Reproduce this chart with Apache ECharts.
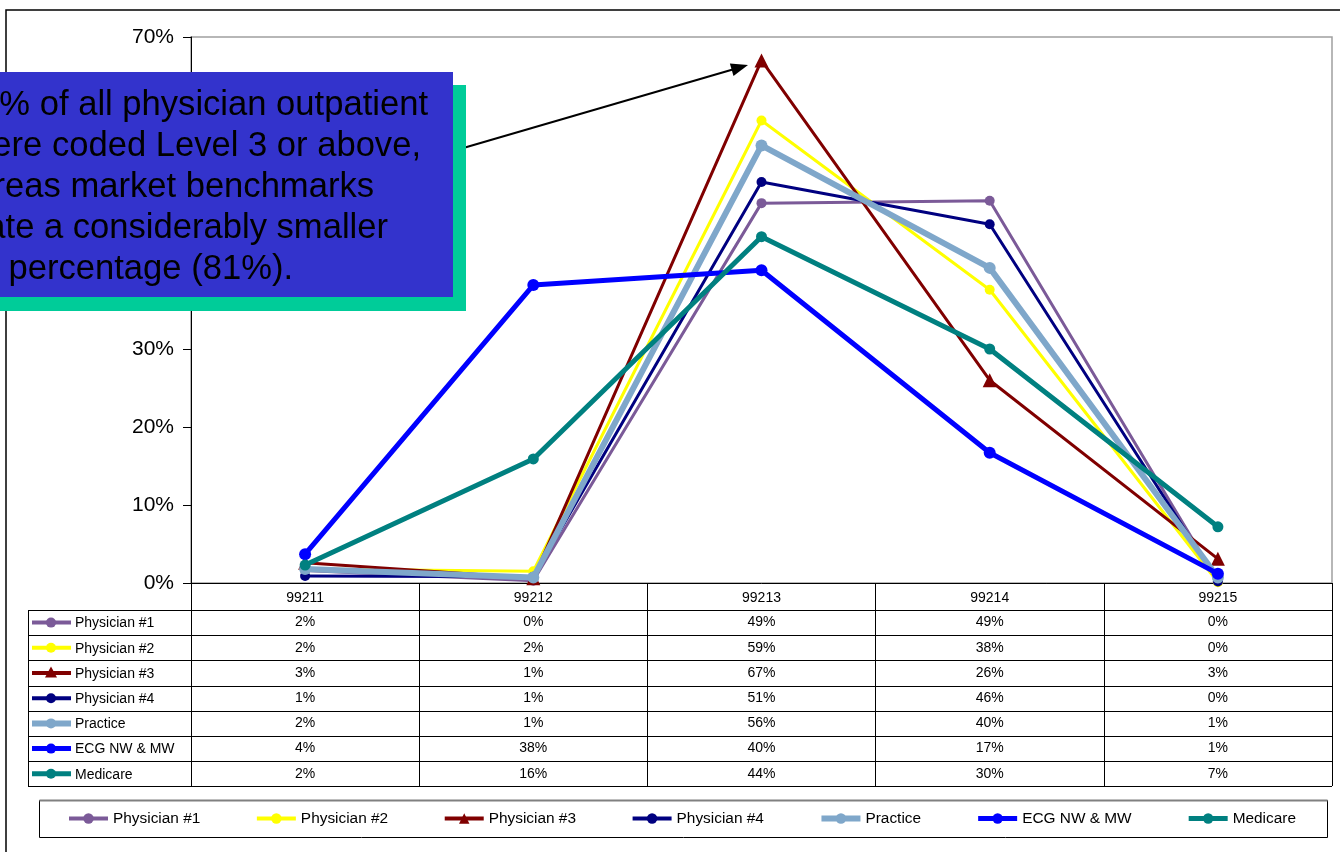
<!DOCTYPE html>
<html><head><meta charset="utf-8">
<script src="https://cdn.jsdelivr.net/npm/echarts@6/dist/echarts.min.js"></script>
<style>html,body{margin:0;padding:0;background:#fff;overflow:hidden}#c{width:1340px;height:852px}</style>
</head><body><div id="c"></div>
<script>
const categories = ['99211', '99212', '99213', '99214', '99215'];
const seriesNames = ['Physician #1', 'Physician #2', 'Physician #3', 'Physician #4', 'Practice', 'ECG NW & MW', 'Medicare'];
const physician1 = [1.6, 0.3, 48.7, 49.0, 0.2];
const physician2 = [1.8, 1.5, 59.3, 37.6, 0.1];
const physician3 = [2.6, 0.6, 67.0, 26.0, 3.1];
const physician4 = [0.9, 0.8, 51.4, 46.0, 0.2];
const practice = [1.8, 0.7, 56.1, 40.4, 0.7];
const ecg = [3.7, 38.2, 40.1, 16.7, 1.2];
const medicare = [2.3, 15.9, 44.4, 30.0, 7.2];
const yTickValues = [0, 10, 20, 30, 40, 50, 60, 70];
const calloutLines = ['% of all physician outpatient', 'ere coded Level 3 or above,', 'reas market benchmarks', 'ate a considerably smaller', ' percentage (81%).'];

const seriesData = [physician1, physician2, physician3, physician4, practice, ecg, medicare];
const colors = ['#7B5A98', '#FFFF00', '#800000', '#000080', '#7FA7CA', '#0000FF', '#008080'];
const widths = [3, 3, 3, 3, 6, 5, 5];
const symbols = ['circle', 'circle', 'triangle', 'circle', 'circle', 'circle', 'circle'];
const symSizes = [10, 10, 14, 10, 12, 12, 11];
const FONT = "'Liberation Sans', Arial, sans-serif";

const chart = echarts.init(document.getElementById('c'), null, {renderer: 'canvas'});

const series = seriesNames.map((n, i) => ({
  name: n, type: 'line', data: seriesData[i],
  symbol: symbols[i], symbolSize: symSizes[i],
  lineStyle: {color: colors[i], width: widths[i]},
  itemStyle: {color: colors[i]},
  emphasis: {disabled: true}, animation: false, z: 2 + i
}));

const option = {
  animation: false,
  textStyle: {fontFamily: FONT},
  grid: {left: 191, right: 8, top: 37, bottom: 269, show: true, borderColor: '#a0a0a0', borderWidth: 1.5, backgroundColor: 'transparent'},
  xAxis: {
    type: 'category', data: categories, boundaryGap: true,
    axisLine: {lineStyle: {color: '#000', width: 1}},
    axisTick: {show: true, interval: 0, length: 203, lineStyle: {color: '#000', width: 1}},
    axisLabel: {margin: 8, fontSize: 14, color: '#000', fontFamily: FONT, interval: 0},
    splitLine: {show: false}
  },
  yAxis: {
    type: 'value', min: yTickValues[0], max: yTickValues[yTickValues.length - 1], interval: 10,
    axisLine: {show: true, lineStyle: {color: '#000', width: 1}},
    axisTick: {show: true, length: 8, lineStyle: {color: '#000'}},
    axisLabel: {margin: 17, fontSize: 21, color: '#000', fontFamily: FONT, formatter: '{value}%'},
    splitLine: {show: false}
  },
  legend: {
    data: seriesNames.map((n, i) => ({name: n, lineStyle: {width: Math.max(4, widths[i])}})),
    left: 67, top: 811, padding: 0, itemWidth: 39, itemHeight: 13, itemGap: 54.6,
    textStyle: {fontSize: 15.4, color: '#000', fontFamily: FONT},
    selectedMode: false
  },
  series: series
};
chart.setOption(option);

// Build table, callout and frame graphics
const g = [];
const yBase = chart.convertToPixel({yAxisIndex: 0}, 0);
const tableLeft = 28;
const tableRight = 1332;
const headerH = 27;
const rowH = 25.2;
const rows = seriesNames.length;
// outer frame
g.push({type: 'rect', shape: {x: 6, y: 10, width: 1500, height: 1000}, style: {fill: 'none', stroke: '#000', lineWidth: 1.5}, z: 1});
// table horizontal lines
for (let r = 0; r <= rows; r++) {
  const y = Math.round(yBase + headerH + r * rowH) + 0.5;
  g.push({type: 'line', shape: {x1: tableLeft, y1: y, x2: tableRight, y2: y}, style: {stroke: '#000', lineWidth: 1}, z: 1});
}
const tableBottom = Math.round(yBase + headerH + rows * rowH) + 0.5;
g.push({type: 'line', shape: {x1: tableLeft + 0.5, y1: yBase + headerH, x2: tableLeft + 0.5, y2: tableBottom}, style: {stroke: '#000', lineWidth: 1}, z: 1});
// rows
seriesNames.forEach((n, i) => {
  const cy = yBase + headerH + (i + 0.5) * rowH;
  g.push({type: 'line', shape: {x1: 32, y1: cy, x2: 71, y2: cy}, style: {stroke: colors[i], lineWidth: Math.max(4, widths[i])}, z: 3});
  if (symbols[i] === 'triangle') {
    g.push({type: 'polygon', shape: {points: [[51, cy - 6.5], [57, cy + 4.5], [45, cy + 4.5]]}, style: {fill: colors[i]}, z: 4});
  } else {
    g.push({type: 'circle', shape: {cx: 51, cy: cy, r: 5}, style: {fill: colors[i]}, z: 4});
  }
  g.push({type: 'text', x: 75, y: cy + 1, style: {text: n, fontSize: 14, fontFamily: FONT, fill: '#000', verticalAlign: 'middle', align: 'left'}, z: 4});
  seriesData[i].forEach((v, j) => {
    const cx = chart.convertToPixel({xAxisIndex: 0}, j);
    g.push({type: 'text', x: cx, y: cy, style: {text: Math.round(v) + '%', fontSize: 14, fontFamily: FONT, fill: '#000', align: 'center', verticalAlign: 'middle'}, z: 4});
  });
});
// legend box
g.push({type: 'rect', shape: {x: 39.5, y: 800.5, width: 1288, height: 37}, style: {fill: 'none', stroke: '#000', lineWidth: 1}, z: 1});
g.push({type: 'line', shape: {x1: 39.5, y1: 800.5, x2: 1327.5, y2: 800.5}, style: {stroke: '#808080', lineWidth: 2}, z: 1});
// arrow
const ax1 = 453, ay1 = 151, ax2 = 748, ay2 = 65;
const dx = ax2 - ax1, dy = ay2 - ay1, L = Math.hypot(dx, dy), ux = dx / L, uy = dy / L;
const bx = ax2 - 17 * ux, by = ay2 - 17 * uy;
g.push({type: 'line', shape: {x1: ax1, y1: ay1, x2: bx + 2 * ux, y2: by + 2 * uy}, style: {stroke: '#000', lineWidth: 2}, z: 20});
g.push({type: 'polygon', shape: {points: [[ax2, ay2], [bx - 6.5 * uy, by + 6.5 * ux], [bx + 6.5 * uy, by - 6.5 * ux]]}, style: {fill: '#000'}, z: 20});
// callout
g.push({type: 'rect', shape: {x: -20, y: 85, width: 486, height: 226}, style: {fill: '#00CC99'}, z: 30});
g.push({type: 'rect', shape: {x: -20, y: 72, width: 473, height: 225}, style: {fill: '#3333CC'}, z: 31});
const ends = [428, 421, 374, 388, 293];
const baselines = [123, 164, 205, 246, 287];
calloutLines.forEach((t, i) => {
  g.push({type: 'text', x: ends[i], y: baselines[i], style: {text: t, fontSize: 34.6, fontFamily: FONT, fill: '#000', align: 'right', verticalAlign: 'bottom'}, z: 32});
});
chart.setOption({graphic: g});
</script>
</body></html>
